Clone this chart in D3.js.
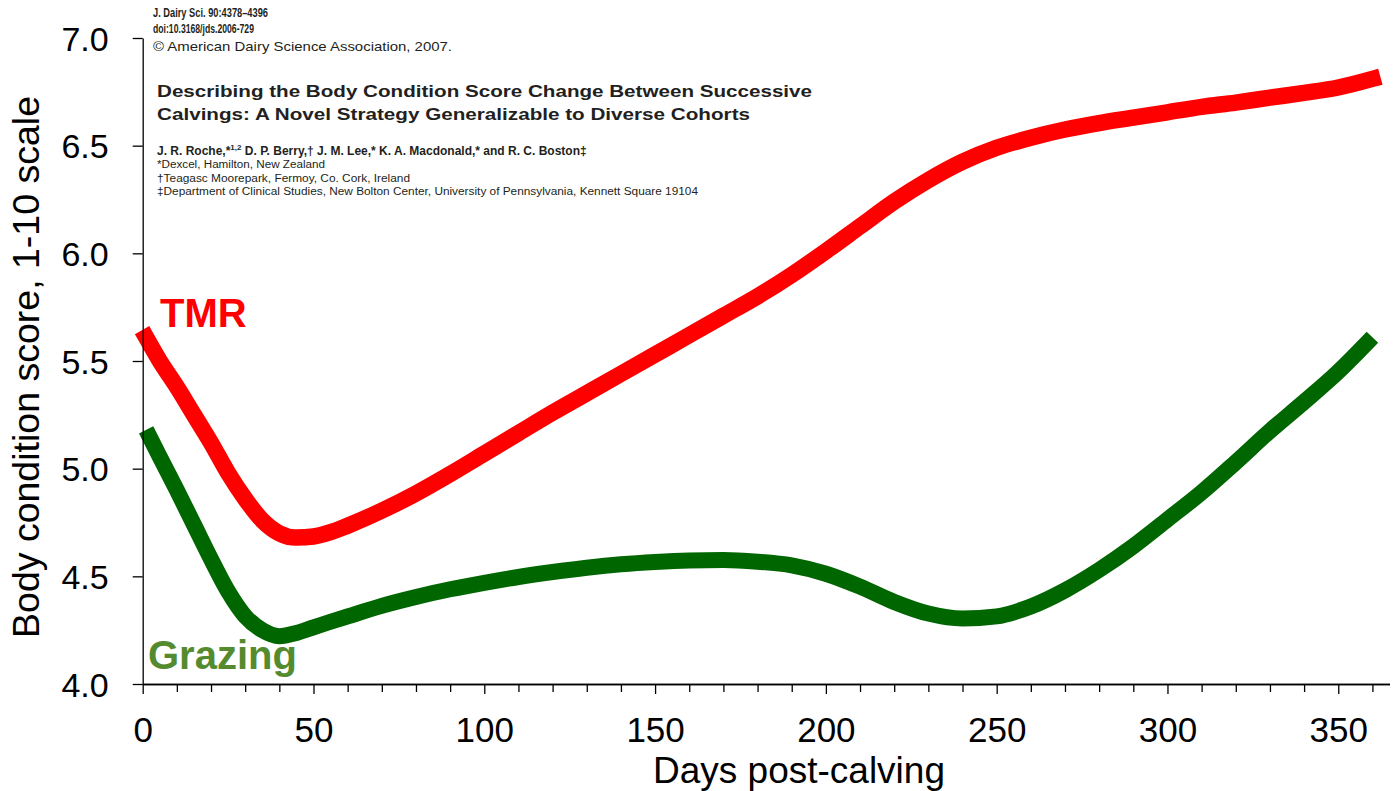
<!DOCTYPE html>
<html>
<head>
<meta charset="utf-8">
<script src="https://cdn.jsdelivr.net/npm/d3@7"></script>
<style>
  body { margin: 0; background: #fff; }
  svg { display: block; font-family: Arial, "Liberation Sans", sans-serif; }
  .axis path, .axis line { stroke: #000; stroke-width: 1.3px; }
  .axis text { fill: #000; }
  .hdr { fill: #231f20; }
</style>
</head>
<body>
<svg id="chart"></svg>
<script>
const days = [1, 5, 10, 15, 20, 25, 30, 35, 40, 45, 50, 55, 60, 70, 80, 90, 100, 110, 120, 130,
  140, 150, 160, 170, 180, 190, 200, 210, 220, 230, 240, 250, 260, 270, 280, 290, 300,
  310, 320, 330, 340, 350, 360]

const tmrBCS = [5.61, 5.50, 5.38, 5.25, 5.12, 4.98, 4.86, 4.76, 4.70, 4.68, 4.685, 4.705, 4.735,
  4.805, 4.885, 4.975, 5.07, 5.165, 5.26, 5.35, 5.44, 5.53, 5.62, 5.71, 5.80, 5.90, 6.01,
  6.125, 6.24, 6.34, 6.425, 6.49, 6.537, 6.575, 6.605, 6.63, 6.655, 6.68, 6.70, 6.723, 6.745,
  6.77, 6.81]

const grazingBCS = [5.18, 5.055, 4.90, 4.74, 4.58, 4.43, 4.315, 4.25, 4.222, 4.237, 4.263, 4.289,
  4.314, 4.363, 4.404, 4.44, 4.47, 4.497, 4.52, 4.54, 4.556, 4.567, 4.574, 4.576, 4.568,
  4.551, 4.512, 4.452, 4.381, 4.327, 4.304, 4.314, 4.36, 4.435, 4.53, 4.64, 4.764, 4.89,
  5.03, 5.175, 5.31, 5.45, 5.61]

const xMajorTicks = [0, 50, 100, 150, 200, 250, 300, 350]
const yTicks = [4.0, 4.5, 5.0, 5.5, 6.0, 6.5, 7.0]

const headerLines = [
  "J. Dairy Sci. 90:4378–4396",
  "doi:10.3168/jds.2006-729",
  "© American Dairy Science Association, 2007.",
  "Describing the Body Condition Score Change Between Successive",
  "Calvings: A Novel Strategy Generalizable to Diverse Cohorts",
  "*Dexcel, Hamilton, New Zealand",
  "†Teagasc Moorepark, Fermoy, Co. Cork, Ireland",
  "‡Department of Clinical Studies, New Bolton Center, University of Pennsylvania, Kennett Square 19104"
]

let W = 1393, H = 791
let svg = d3.select('#chart')
  .attr('width', W)
  .attr('height', H)

let x = d3.scaleLinear()
  .domain([0, 365])
  .range([142.7, 1389.5])

let y = d3.scaleLinear()
  .domain([4, 7])
  .range([684, 38])

let tmr = days.map((d, i) => [d, tmrBCS[i]])
let grazing = days.map((d, i) => [d, grazingBCS[i]])

let line = d3.line()
  .x(d => x(d[0]))
  .y(d => y(d[1]))
  .curve(d3.curveMonotoneX)

// paper header pasted on the slide
let hdr = svg.append('g').attr('class', 'hdr')
let hdrStyle = [
  {x: 153, y: 17, size: 12.5, bold: true, len: 115},
  {x: 153, y: 33, size: 12.5, bold: true, len: 101},
  {x: 153, y: 51, size: 13, bold: false, len: 299},
  {x: 157, y: 97, size: 17, bold: true, len: 655},
  {x: 157, y: 120, size: 17, bold: true, len: 593},
  {x: 157, y: 168, size: 10, bold: false, len: 168},
  {x: 157, y: 182, size: 10, bold: false, len: 253},
  {x: 157, y: 195, size: 10, bold: false, len: 541}
]
headerLines.forEach((t, i) => {
  let s = hdrStyle[i]
  hdr.append('text')
    .attr('x', s.x).attr('y', s.y)
    .attr('font-size', s.size)
    .attr('font-weight', s.bold ? 'bold' : 'normal')
    .attr('textLength', s.len)
    .attr('lengthAdjust', 'spacingAndGlyphs')
    .text(t)
})
// author line with superscripts
let au = hdr.append('text')
  .attr('x', 157).attr('y', 155)
  .attr('font-size', 12)
  .attr('font-weight', 'bold')
au.append('tspan').text('J. R. Roche,*')
au.append('tspan').attr('font-size', 8).attr('dy', -5).text('1,2')
au.append('tspan').attr('dy', 5).text(' D. P. Berry,† J. M. Lee,* K. A. Macdonald,* and R. C. Boston‡')

// curves (drawn as thick bands like the stacked markers)
svg.append('path')
  .datum(tmr)
  .attr('fill', 'none')
  .attr('stroke', '#ff0000')
  .attr('stroke-width', 16.5)
  .attr('stroke-linecap', 'square')
  .attr('stroke-linejoin', 'round')
  .attr('d', line)

svg.append('path')
  .datum(grazing)
  .attr('fill', 'none')
  .attr('stroke', '#006600')
  .attr('stroke-width', 16)
  .attr('stroke-linecap', 'butt')
  .attr('stroke-linejoin', 'round')
  .attr('d', line)

// axes
let xMinor = d3.range(10, 365, 10).filter(d => d % 50 != 0)

svg.append('g')
  .attr('class', 'axis')
  .attr('transform', 'translate(0,' + y(4) + ')')
  .call(d3.axisBottom(x).tickValues(xMinor).tickSize(8).tickSizeOuter(0).tickFormat(''))

let xAxis = svg.append('g')
  .attr('class', 'axis')
  .attr('transform', 'translate(0,' + y(4) + ')')
  .call(d3.axisBottom(x).tickValues(xMajorTicks).tickSize(10).tickSizeOuter(0).tickPadding(23))
xAxis.selectAll('text').attr('font-size', 35).attr('font-family', 'Arial, "Liberation Sans", sans-serif')

let yAxis = svg.append('g')
  .attr('class', 'axis')
  .attr('transform', 'translate(' + x(0) + ',0)')
  .call(d3.axisLeft(y).tickValues(yTicks).tickSize(10).tickSizeOuter(0).tickPadding(24).tickFormat(d3.format('.1f')))
yAxis.selectAll('text').attr('font-size', 34).attr('dy', '0.36em').attr('font-family', 'Arial, "Liberation Sans", sans-serif')

// axis titles
svg.append('text')
  .attr('x', 799).attr('y', 783)
  .attr('text-anchor', 'middle')
  .attr('font-size', 37)
  .text('Days post-calving')

svg.append('text')
  .attr('transform', 'translate(39,367) rotate(-90)')
  .attr('text-anchor', 'middle')
  .attr('font-size', 37.5)
  .text('Body condition score, 1-10 scale')

// series labels
svg.append('text')
  .attr('x', 160).attr('y', 327)
  .attr('font-size', 40).attr('font-weight', 'bold')
  .attr('fill', '#ff0000')
  .text('TMR')

svg.append('text')
  .attr('x', 148).attr('y', 669)
  .attr('font-size', 40).attr('font-weight', 'bold')
  .attr('fill', '#548b2e')
  .text('Grazing')
</script>
</body>
</html>
